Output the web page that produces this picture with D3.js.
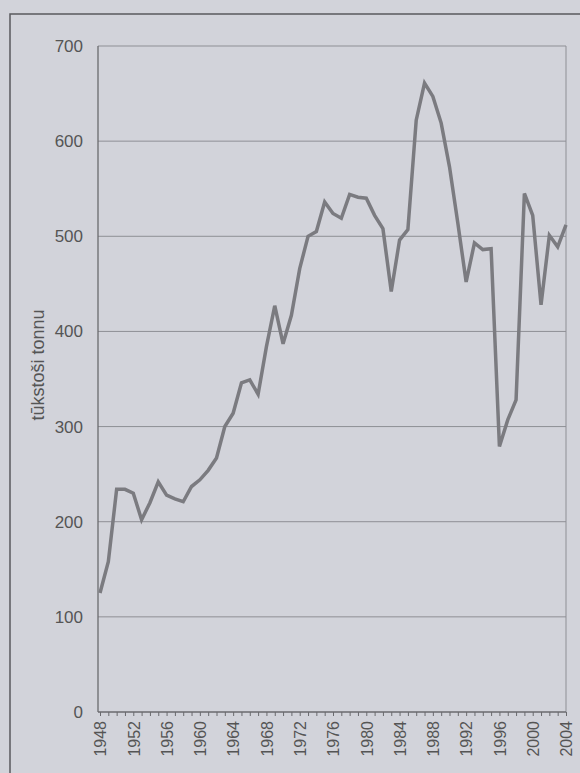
<!DOCTYPE html>
<html>
<head>
<meta charset="utf-8">
<script src="https://cdn.jsdelivr.net/npm/d3@7"></script>
<style>
  html, body { margin: 0; padding: 0; background: #d2d3da; }
  svg { display: block; }
  text { font-family: "Liberation Sans", Arial, sans-serif; fill: #555; }
</style>
</head>
<body>
<svg id="chart"></svg>
<script>
// Years and catch values (thousand tonnes)
const years = d3.range(1948, 2005);
const values = [
  125, 158, 234, 234, 230, 202, 220, 242, 228, 224, 221, 237,
  244, 254, 267, 300, 314, 346, 349, 334, 384, 427, 387, 417,
  466, 500, 505, 536, 524, 519, 544, 541, 540, 522, 508, 442,
  496, 507, 622, 661, 647, 619, 573, 514, 452, 493, 486, 487,
  279, 307, 328, 545, 522, 428, 501, 489, 512
];
const yTicks = [0, 100, 200, 300, 400, 500, 600, 700];
const yLabel = "tūkstoši tonnu";

const width = 580, height = 773;
const margin = {left: 100, right: 14, top: 46, bottom: 61};

const svg = d3.select("#chart").attr("width", width).attr("height", height);

// outer frame of the figure box
svg.append("rect")
  .attr("x", 10).attr("y", 14)
  .attr("width", 620).attr("height", 800)
  .attr("fill", "none")
  .attr("stroke", "#5a5a5e")
  .attr("stroke-width", 1.5);

const x = d3.scaleLinear().domain([1948, 2004]).range([margin.left, width - margin.right]);
const y = d3.scaleLinear().domain([0, 700]).range([height - margin.bottom, margin.top]);

// gridlines
svg.append("g")
  .selectAll("line")
  .data(yTicks.filter(d => d > 0))
  .join("line")
  .attr("x1", x.range()[0] - 2)
  .attr("x2", x.range()[1])
  .attr("y1", d => y(d))
  .attr("y2", d => y(d))
  .attr("stroke", "#8e8f95")
  .attr("stroke-width", 1);

// right border of plot
svg.append("line")
  .attr("x1", x(2004)).attr("x2", x(2004))
  .attr("y1", y(700)).attr("y2", y(0))
  .attr("stroke", "#8e8f95")
  .attr("stroke-width", 1);

// y axis line + labels
svg.append("line")
  .attr("x1", x.range()[0] - 2).attr("x2", x.range()[0] - 2)
  .attr("y1", y(700)).attr("y2", y(0))
  .attr("stroke", "#6a6a6e")
  .attr("stroke-width", 1.3);

svg.append("g")
  .selectAll("text")
  .data(yTicks)
  .join("text")
  .attr("x", 83)
  .attr("y", d => y(d))
  .attr("dy", "0.35em")
  .attr("text-anchor", "end")
  .attr("font-size", 17)
  .text(d => d);

// x axis
const xAxis = d3.axisBottom(x)
  .tickValues(years)
  .tickSize(4)
  .tickFormat(d => (d - 1948) % 4 === 0 ? d : "");

const gx = svg.append("g")
  .attr("transform", `translate(0,${y(0)})`)
  .call(xAxis);
gx.select(".domain").attr("stroke", "#6a6a6e").attr("stroke-width", 1.3)
  .attr("d", `M${x.range()[0] - 2},0H${x.range()[1]}`);
gx.selectAll(".tick line").attr("stroke", "#6a6a6e");
gx.selectAll(".tick text")
  .attr("font-size", 16)
  .attr("font-family", "'Liberation Sans', Arial, sans-serif")
  .attr("fill", "#555")
  .attr("transform", "rotate(-90)")
  .attr("text-anchor", "end")
  .attr("x", -9)
  .attr("y", 0)
  .attr("dy", "0.36em");

// y axis title
svg.append("text")
  .attr("transform", "translate(44,365) rotate(-90)")
  .attr("text-anchor", "middle")
  .attr("font-size", 18)
  .attr("font-family", "'Liberation Sans Narrow', 'DejaVu Sans Condensed', sans-serif")
  .text(yLabel);

// data line
const line = d3.line()
  .x((d, i) => x(years[i]))
  .y(d => y(d));

svg.append("path")
  .datum(values)
  .attr("fill", "none")
  .attr("stroke", "#7b7b80")
  .attr("stroke-width", 3.5)
  .attr("stroke-linejoin", "miter")
  .attr("d", line);
</script>
</body>
</html>
